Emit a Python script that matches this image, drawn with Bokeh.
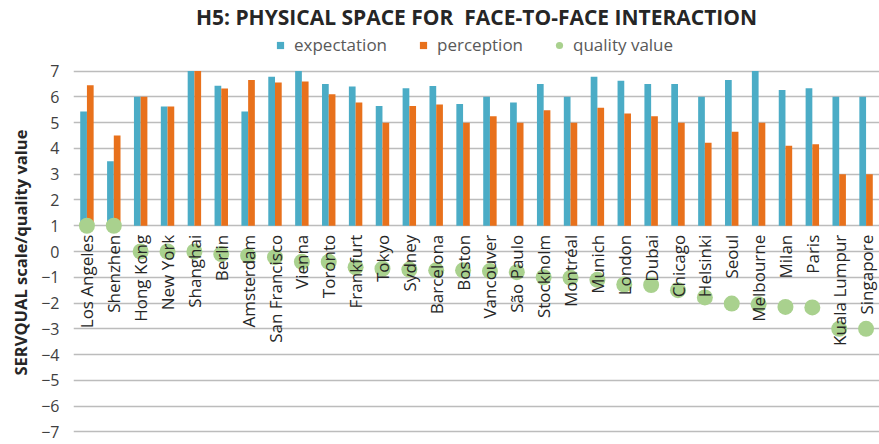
from bokeh.plotting import figure
from bokeh.models import FactorRange, FixedTicker, Legend, LegendItem, Title, ColumnDataSource
from bokeh.transform import dodge
from bokeh.core.properties import value
from bokeh.embed import file_html
from bokeh.resources import INLINE
import math

# --- data -------------------------------------------------------------
cities = [
    "Los Angeles", "Shenzhen", "Hong Kong", "New York", "Shanghai", "Berlin",
    "Amsterdam", "San Francisco", "Vienna", "Toronto", "Frankfurt", "Tokyo",
    "Sydney", "Barcelona", "Boston", "Vancouver", "São Paulo", "Stockholm",
    "Montréal", "Munich", "London", "Dubai", "Chicago", "Helsinki", "Seoul",
    "Melbourne", "Milan", "Paris", "Kuala Lumpur", "Singapore",
]
expectation = [5.43, 3.5, 6.0, 5.63, 7.0, 6.43, 5.43, 6.78, 7.0, 6.5,
               6.4, 5.65, 6.33, 6.42, 5.72, 6.0, 5.78, 6.5, 6.0, 6.78,
               6.63, 6.5, 6.5, 6.0, 6.65, 7.0, 6.27, 6.33, 6.0, 6.0]
perception = [6.45, 4.5, 6.0, 5.63, 7.0, 6.32, 6.65, 6.56, 6.6, 6.1,
              5.78, 5.0, 5.65, 5.7, 5.0, 5.25, 5.0, 5.48, 5.0, 5.58,
              5.35, 5.25, 5.0, 4.22, 4.65, 5.0, 4.1, 4.16, 3.0, 3.0]
quality_value = [1.0, 1.0, 0.0, 0.0, 0.0, -0.1, -0.16, -0.22, -0.4, -0.4,
                 -0.61, -0.67, -0.7, -0.73, -0.73, -0.76, -0.8, -1.0, -1.02, -1.1,
                 -1.28, -1.3, -1.5, -1.78, -2.02, -2.05, -2.15, -2.17, -3.0, -3.0]
y_ticks = [-7, -6, -5, -4, -3, -2, -1, 0, 1, 2, 3, 4, 5, 6, 7]
y_tick_labels = ["\u22127", "\u22126", "\u22125", "\u22124", "\u22123", "\u22122", "\u22121",
                 "0", "1", "2", "3", "4", "5", "6", "7"]
bar_base = 1  # the category axis crosses the value axis at 1

FONT = "Open Sans"
BLUE = "#4bacc6"
ORANGE = "#e8711c"
GREEN = "#a9d18e"

src = ColumnDataSource(dict(city=cities, expectation=expectation,
                            perception=perception, quality=quality_value))

# the frame reaches up to hold the legend row above the value 7 gridline
p = figure(
    width=879, height=444,
    x_range=FactorRange(*cities, range_padding=0),
    y_range=(-7.1, 8.575),
    output_backend="svg", toolbar_location=None,
    min_border_left=71, min_border_right=0, min_border_top=30, min_border_bottom=10,
)
p.outline_line_color = None
p.background_fill_color = "white"
p.border_fill_color = "white"

# grid
p.xgrid.visible = False
p.ygrid.ticker = FixedTicker(ticks=y_ticks)
p.ygrid.grid_line_color = "#bcbcbc"
p.ygrid.grid_line_width = 1.6

# axes
p.xaxis.visible = False
p.yaxis.ticker = FixedTicker(ticks=y_ticks)
p.yaxis.major_label_overrides = {t: lab for t, lab in zip(y_ticks, y_tick_labels)}
p.yaxis.axis_line_color = None
p.yaxis.major_tick_line_color = None
p.yaxis.minor_tick_line_color = None
p.yaxis.major_label_standoff = 8
p.yaxis.major_label_text_font = FONT
p.yaxis.major_label_text_font_size = "16px"
p.yaxis.major_label_text_color = "#404040"

# value-axis title, starting 59 px above the bottom of the frame
p.add_layout(Title(text="SERVQUAL scale/quality value", align="left", offset=59,
                   text_font=FONT, text_font_size="16.5px", text_font_style="bold",
                   text_color="#262626", standoff=13), "left")

# bars
r_exp = p.vbar(x=dodge("city", -0.125, range=p.x_range), top="expectation", bottom=bar_base,
               width=0.25, source=src, fill_color=BLUE, line_color=None)
r_per = p.vbar(x=dodge("city", 0.125, range=p.x_range), top="perception", bottom=bar_base,
               width=0.25, source=src, fill_color=ORANGE, line_color=None)

# quality value dots
r_q = p.scatter(x="city", y="quality", source=src, size=16, marker="circle",
                fill_color=GREEN, line_color=None)

# category labels, hanging just below the crossing line
p.text(x="city", y=bar_base, text="city", source=src, angle=math.pi / 2,
       y_offset=9, text_align="right", text_baseline="middle",
       text_font=value(FONT), text_font_size="17px", text_color="#262626")

# small square swatches for the bar series in the legend (no visible points)
sw_src = ColumnDataSource(dict(city=[cities[0]], v=[float("nan")]))
sw_exp = p.scatter(x="city", y="v", source=sw_src, marker="square",
                   fill_color=BLUE, line_color=None)
sw_per = p.scatter(x="city", y="v", source=sw_src, marker="square",
                   fill_color=ORANGE, line_color=None)

legend = Legend(
    items=[LegendItem(label="expectation", renderers=[sw_exp]),
           LegendItem(label="perception", renderers=[sw_per]),
           LegendItem(label="quality value", renderers=[r_q])],
    orientation="horizontal", location=(198, 378),
    glyph_width=18, glyph_height=18, label_height=18, label_standoff=5,
    spacing=27, padding=0, margin=0,
    label_text_font=FONT, label_text_font_size="17px", label_text_color="#595959",
    border_line_color=None, background_fill_alpha=0,
)
p.add_layout(legend, "center")

p.add_layout(Title(text="H5: PHYSICAL SPACE FOR\u00a0 FACE-TO-FACE INTERACTION", align="center",
                   text_font=FONT, text_font_size="21px", text_font_style="bold",
                   text_color="#262626", standoff=0), "above")

open("out.html", "w").write(file_html(p, INLINE))
